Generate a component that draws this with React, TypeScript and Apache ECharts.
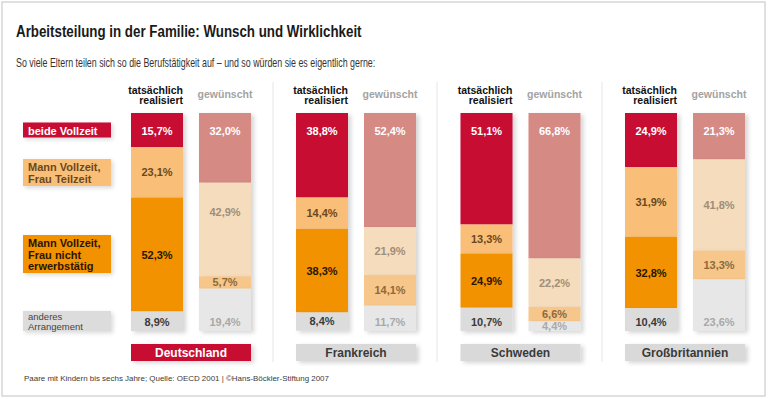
import React, { useEffect, useRef } from "react";
import * as echarts from "echarts";

const countries = ["Deutschland", "Frankreich", "Schweden", "Großbritannien"];
const columns = ["tatsächlich\nrealisiert", "gewünscht"];
const arrangements = [
  "beide Vollzeit",
  "Mann Vollzeit,\nFrau Teilzeit",
  "Mann Vollzeit,\nFrau nicht\nerwerbstätig",
  "anderes\nArrangement",
];

// values per arrangement, ordered like `countries`
const beideRealisiert = [15.7, 38.8, 51.1, 24.9];
const beideGewuenscht = [32.0, 52.4, 66.8, 21.3];
const teilzeitRealisiert = [23.1, 14.4, 13.3, 31.9];
const teilzeitGewuenscht = [42.9, 21.9, 22.2, 41.8];
const nichtRealisiert = [52.3, 38.3, 24.9, 32.8];
const nichtGewuenscht = [5.7, 14.1, 6.6, 13.3];
const anderesRealisiert = [8.9, 8.4, 10.7, 10.4];
const anderesGewuenscht = [19.4, 11.7, 4.4, 23.6];

const title = "Arbeitsteilung in der Familie: Wunsch und Wirklichkeit";
const subtitle =
  "So viele Eltern teilen sich so die Berufstätigkeit auf – und so würden sie es eigentlich gerne:";
const footer =
  "Paare mit Kindern bis sechs Jahre; Quelle: OECD 2001 | ©Hans-Böckler-Stiftung 2007";

const realValues = [beideRealisiert, teilzeitRealisiert, nichtRealisiert, anderesRealisiert];
const wishValues = [beideGewuenscht, teilzeitGewuenscht, nichtGewuenscht, anderesGewuenscht];

const realColors = ["#c70d32", "#f9bf78", "#f29200", "#dcdcdc"];
const wishColors = ["#d58a84", "#f5dcbc", "#f6c68a", "#e7e7e7"];
const realLabelColors = ["#ffffff", "#6b481c", "#2a1500", "#3a3a3a"];
const wishLabelColors = ["#ffffff", "#a08e79", "#8c6a3c", "#a9a9a9"];
const legendTextColors = ["#ffffff", "#6b481c", "#2a1500", "#444444"];

const FONT = '"Liberation Sans", Arial, sans-serif';
const gridLefts = [123, 288, 452.5, 617];
const GRID_TOP = 113;
const GRID_H = 218;

function measure(text: string, font: string) {
  const c = document.createElement("canvas").getContext("2d")!;
  c.font = font;
  return c.measureText(text).width;
}

function fitText(text: string, x: number, y: number, size: number, weight: string, color: string, target: number) {
  const w = measure(text, `${weight} ${size}px ${FONT}`);
  return {
    type: "text",
    x,
    y,
    scaleX: target / w,
    silent: true,
    style: {
      text,
      fill: color,
      fontSize: size,
      fontWeight: weight,
      fontFamily: FONT,
      align: "left",
      textAlign: "left",
      verticalAlign: "middle",
      textVerticalAlign: "middle",
    },
  };
}

const fmt = (p: any) => Number(p.value).toFixed(1).replace(".", ",") + "%";

export default function App() {
  const ref = useRef<HTMLDivElement>(null);
  useEffect(() => {
    const chart = echarts.init(ref.current!, null, { renderer: "svg" });

    const series: any[] = [];
    countries.forEach((_, ci) => {
      arrangements.forEach((__, k) => {
        let position = "inside";
        let distance = 5;
        if (k === 0) {
          position = "insideTop";
          distance = 12;
        } else if (k === 3) {
          position = "insideBottom";
          distance = 4;
        }
        const wishItem: any = {
          value: wishValues[k][ci],
          itemStyle: { color: wishColors[k] },
          label: { color: wishLabelColors[k] },
        };
        if (ci === 0 && k === 1) wishItem.label = { color: wishLabelColors[k], position: "insideTop", distance: 24 };
        if (ci === 2 && k === 3) wishItem.label = { color: wishLabelColors[k], position: "insideBottom", distance: 0 };
        series.push({
          type: "bar",
          xAxisIndex: ci,
          yAxisIndex: ci,
          stack: "s" + ci,
          barWidth: 52,
          silent: true,
          itemStyle: {
            shadowBlur: 4,
            shadowOffsetX: 3,
            shadowOffsetY: 2,
            shadowColor: "rgba(0,0,0,0.16)",
          },
          label: {
            show: true,
            position,
            distance,
            formatter: fmt,
            fontSize: 11,
            fontWeight: "bold",
            fontFamily: FONT,
          },
          data: [
            {
              value: realValues[k][ci],
              itemStyle: { color: realColors[k] },
              label: { color: realLabelColors[k] },
            },
            wishItem,
          ],
        });
      });
    });

    const graphic: any[] = [];
    // frame
    graphic.push({
      type: "rect",
      silent: true,
      shape: { x: 2, y: 2, width: 763, height: 394 },
      style: { fill: "none", stroke: "#d6d6d6", lineWidth: 1.5 },
    });
    graphic.push(fitText(title, 16, 31, 17, "bold", "#1a1a1a", 346));
    graphic.push(fitText(subtitle, 16, 62, 13, "normal", "#333333", 360));
    graphic.push(fitText(footer, 24, 378, 8, "normal", "#3a3a3a", 305));

    // separators
    [273, 437, 602].forEach((x) => {
      graphic.push({
        type: "line",
        silent: true,
        shape: { x1: x, y1: 82, x2: x, y2: 362 },
        style: { stroke: "#e6e6e6", lineWidth: 1 },
      });
    });

    // legend boxes
    const legendBoxes = [
      { y: 122.5, h: 15 },
      { y: 159, h: 27 },
      { y: 235, h: 38 },
      { y: 311, h: 20 },
    ];
    arrangements.forEach((name, k) => {
      const b = legendBoxes[k];
      graphic.push({
        type: "rect",
        silent: true,
        shape: { x: 23, y: b.y, width: 88, height: b.h },
        style: {
          fill: realColors[k],
          shadowBlur: 4,
          shadowOffsetX: 2,
          shadowOffsetY: 2,
          shadowColor: "rgba(0,0,0,0.15)",
        },
      });
      graphic.push({
        type: "text",
        silent: true,
        x: 28,
        y: b.y + b.h / 2 + 0.5,
        style: {
          text: name,
          fill: legendTextColors[k],
          fontSize: k === 3 ? 9.5 : 11,
          fontWeight: k === 3 ? "normal" : "bold",
          fontFamily: FONT,
          lineHeight: k === 3 ? 9.7 : 11.7,
          align: "left",
          textAlign: "left",
          verticalAlign: "middle",
          textVerticalAlign: "middle",
        },
      });
    });

    // headers and country boxes
    countries.forEach((c, ci) => {
      const l = gridLefts[ci];
      graphic.push({
        type: "text",
        silent: true,
        x: l + 60,
        y: 95,
        style: {
          text: columns[0],
          fill: "#111111",
          fontSize: 10.5,
          fontWeight: "bold",
          fontFamily: FONT,
          lineHeight: 10.5,
          align: "right",
          textAlign: "right",
          verticalAlign: "middle",
          textVerticalAlign: "middle",
        },
      });
      graphic.push({
        type: "text",
        silent: true,
        x: l + 102,
        y: 94,
        style: {
          text: columns[1],
          fill: "#a3a3a3",
          fontSize: 10.5,
          fontWeight: "bold",
          fontFamily: FONT,
          align: "center",
          textAlign: "center",
          verticalAlign: "middle",
          textVerticalAlign: "middle",
        },
      });
      graphic.push({
        type: "rect",
        silent: true,
        shape: { x: l + 8, y: 344, width: 120, height: 17 },
        style: {
          fill: ci === 0 ? "#c70d32" : "#d9d9d9",
          shadowBlur: 4,
          shadowOffsetX: 3,
          shadowOffsetY: 2,
          shadowColor: "rgba(0,0,0,0.16)",
        },
      });
      graphic.push({
        type: "text",
        silent: true,
        x: l + 68,
        y: 353,
        style: {
          text: c,
          fill: ci === 0 ? "#ffffff" : "#3a3a3a",
          fontSize: 12,
          fontWeight: "bold",
          fontFamily: FONT,
          align: "center",
          textAlign: "center",
          verticalAlign: "middle",
          textVerticalAlign: "middle",
        },
      });
    });

    chart.setOption({
      animation: false,
      backgroundColor: "#ffffff",
      grid: gridLefts.map((l) => ({ left: l, top: GRID_TOP, width: 136, height: GRID_H })),
      xAxis: gridLefts.map((_, i) => ({ type: "category", gridIndex: i, data: columns, show: false })),
      yAxis: gridLefts.map((_, i) => ({
        type: "value",
        gridIndex: i,
        min: 0,
        max: 100,
        inverse: true,
        show: false,
      })),
      series,
      graphic,
    });
    return () => chart.dispose();
  }, []);
  return (
    <div
      ref={ref}
      style={{ position: "fixed", left: 0, top: 0, width: 768, height: 399, background: "#fff" }}
    />
  );
}
